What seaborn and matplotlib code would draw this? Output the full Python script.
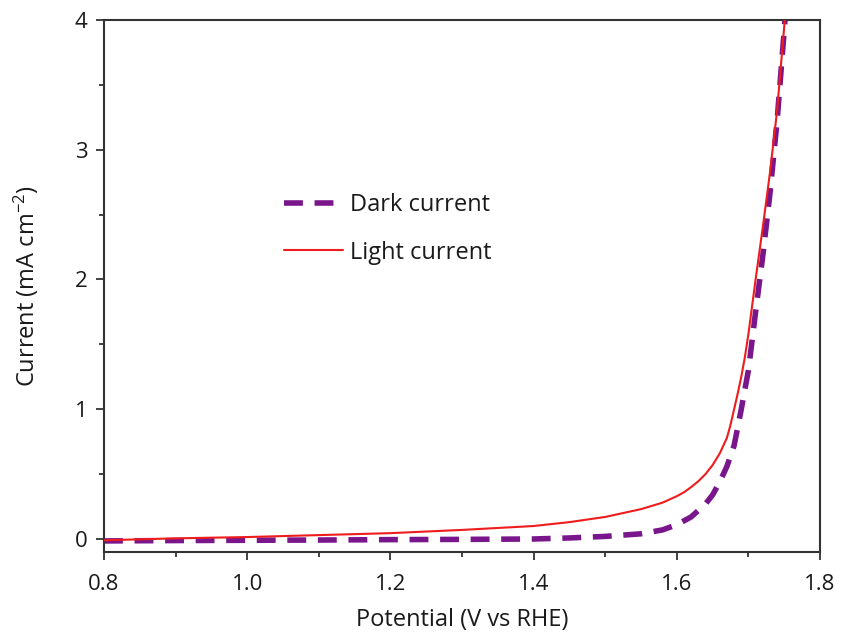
import numpy as np
import pandas as pd
import matplotlib
matplotlib.use("Agg")
import matplotlib.pyplot as plt
from matplotlib.ticker import MultipleLocator
import seaborn as sns

# Linear sweep voltammetry, dark vs. illuminated electrode
dark_potential = [0.80, 0.90, 1.00, 1.10, 1.20, 1.30, 1.40, 1.45, 1.50, 1.55, 1.58,
                  1.60, 1.62, 1.64, 1.65, 1.66, 1.67, 1.68, 1.69, 1.70, 1.71, 1.72,
                  1.73, 1.74, 1.75, 1.755]
dark_current = [-0.015, -0.012, -0.010, -0.008, -0.005, -0.003, 0.000, 0.008, 0.020,
                0.040, 0.070, 0.110, 0.170, 0.270, 0.340, 0.440, 0.560, 0.720, 1.000,
                1.300, 1.750, 2.180, 2.660, 3.220, 3.920, 4.300]

light_potential = [0.80, 0.90, 1.00, 1.10, 1.20, 1.30, 1.40, 1.45, 1.50, 1.55, 1.58,
                   1.60, 1.61, 1.62, 1.63, 1.64, 1.65, 1.66, 1.67, 1.675, 1.68, 1.685,
                   1.69, 1.695, 1.70, 1.71, 1.72, 1.73, 1.74, 1.75, 1.755]
light_current = [-0.010, 0.005, 0.015, 0.030, 0.045, 0.070, 0.100, 0.130, 0.170, 0.230,
                 0.280, 0.330, 0.360, 0.400, 0.445, 0.500, 0.570, 0.660, 0.780, 0.880,
                 1.000, 1.120, 1.250, 1.400, 1.580, 2.000, 2.400, 2.820, 3.300, 3.950,
                 4.300]

series_labels = ["Dark current", "Light current"]
x_ticks = [0.8, 1.0, 1.2, 1.4, 1.6, 1.8]
y_ticks = [0, 1, 2, 3, 4]

sns.set_theme(style="ticks")
plt.rcParams["font.family"] = ["Open Sans", "DejaVu Sans"]
plt.rcParams["mathtext.fontset"] = "custom"
plt.rcParams["mathtext.rm"] = "Open Sans"
plt.rcParams["mathtext.default"] = "regular"

text_color = "#1a1a1a"
spine_color = "#333333"

fig = plt.figure(figsize=(8.44, 6.39), dpi=100)
ax = fig.add_axes([0.1232, 0.1362, 0.8484, 0.8325])

dark_df = pd.DataFrame({"V": dark_potential, "I": dark_current})
light_df = pd.DataFrame({"V": light_potential, "I": light_current})

sns.lineplot(data=dark_df, x="V", y="I", ax=ax, sort=False, color="#7a168c",
             linewidth=4.0, label=series_labels[0], zorder=2)
ax.lines[-1].set_dashes((3.4, 2.1))
ax.lines[-1].set_dash_capstyle("butt")
sns.lineplot(data=light_df, x="V", y="I", ax=ax, sort=False, color="#ee1c1c",
             linewidth=1.5, label=series_labels[1], zorder=3)

ax.set_xlim(0.8, 1.8)
ax.set_ylim(-0.1, 4.0)
ax.set_xticks(x_ticks)
ax.set_xticklabels([f"{t:.1f}" for t in x_ticks])
ax.set_yticks(y_ticks)
ax.xaxis.set_minor_locator(MultipleLocator(0.1))
ax.yaxis.set_minor_locator(MultipleLocator(0.5))

ax.tick_params(which="major", direction="out", length=6, width=1.3, color=spine_color,
               labelsize=16, labelcolor=text_color)
ax.tick_params(axis="x", which="major", pad=10)
ax.tick_params(axis="y", which="major", pad=6)
ax.tick_params(which="minor", direction="out", length=3.5, width=1.3, color=spine_color)
ax.tick_params(axis="x", which="both", top=False)
ax.tick_params(axis="y", which="both", right=False)
for s in ax.spines.values():
    s.set_color(spine_color)
    s.set_linewidth(1.5)

ax.set_xlabel("Potential (V vs RHE)", fontsize=17, color=text_color, labelpad=9)
ax.set_ylabel("Current (mA cm$^{-2}$)", fontsize=17, color=text_color, labelpad=24)

leg = ax.legend(loc="upper left", bbox_to_anchor=(0.251, 0.675), frameon=False,
                fontsize=17, handlelength=2.5, handletextpad=0.3, labelspacing=1.0,
                borderpad=0, borderaxespad=0)
for t in leg.get_texts():
    t.set_color(text_color)

fig.savefig("out.png", dpi=100)
